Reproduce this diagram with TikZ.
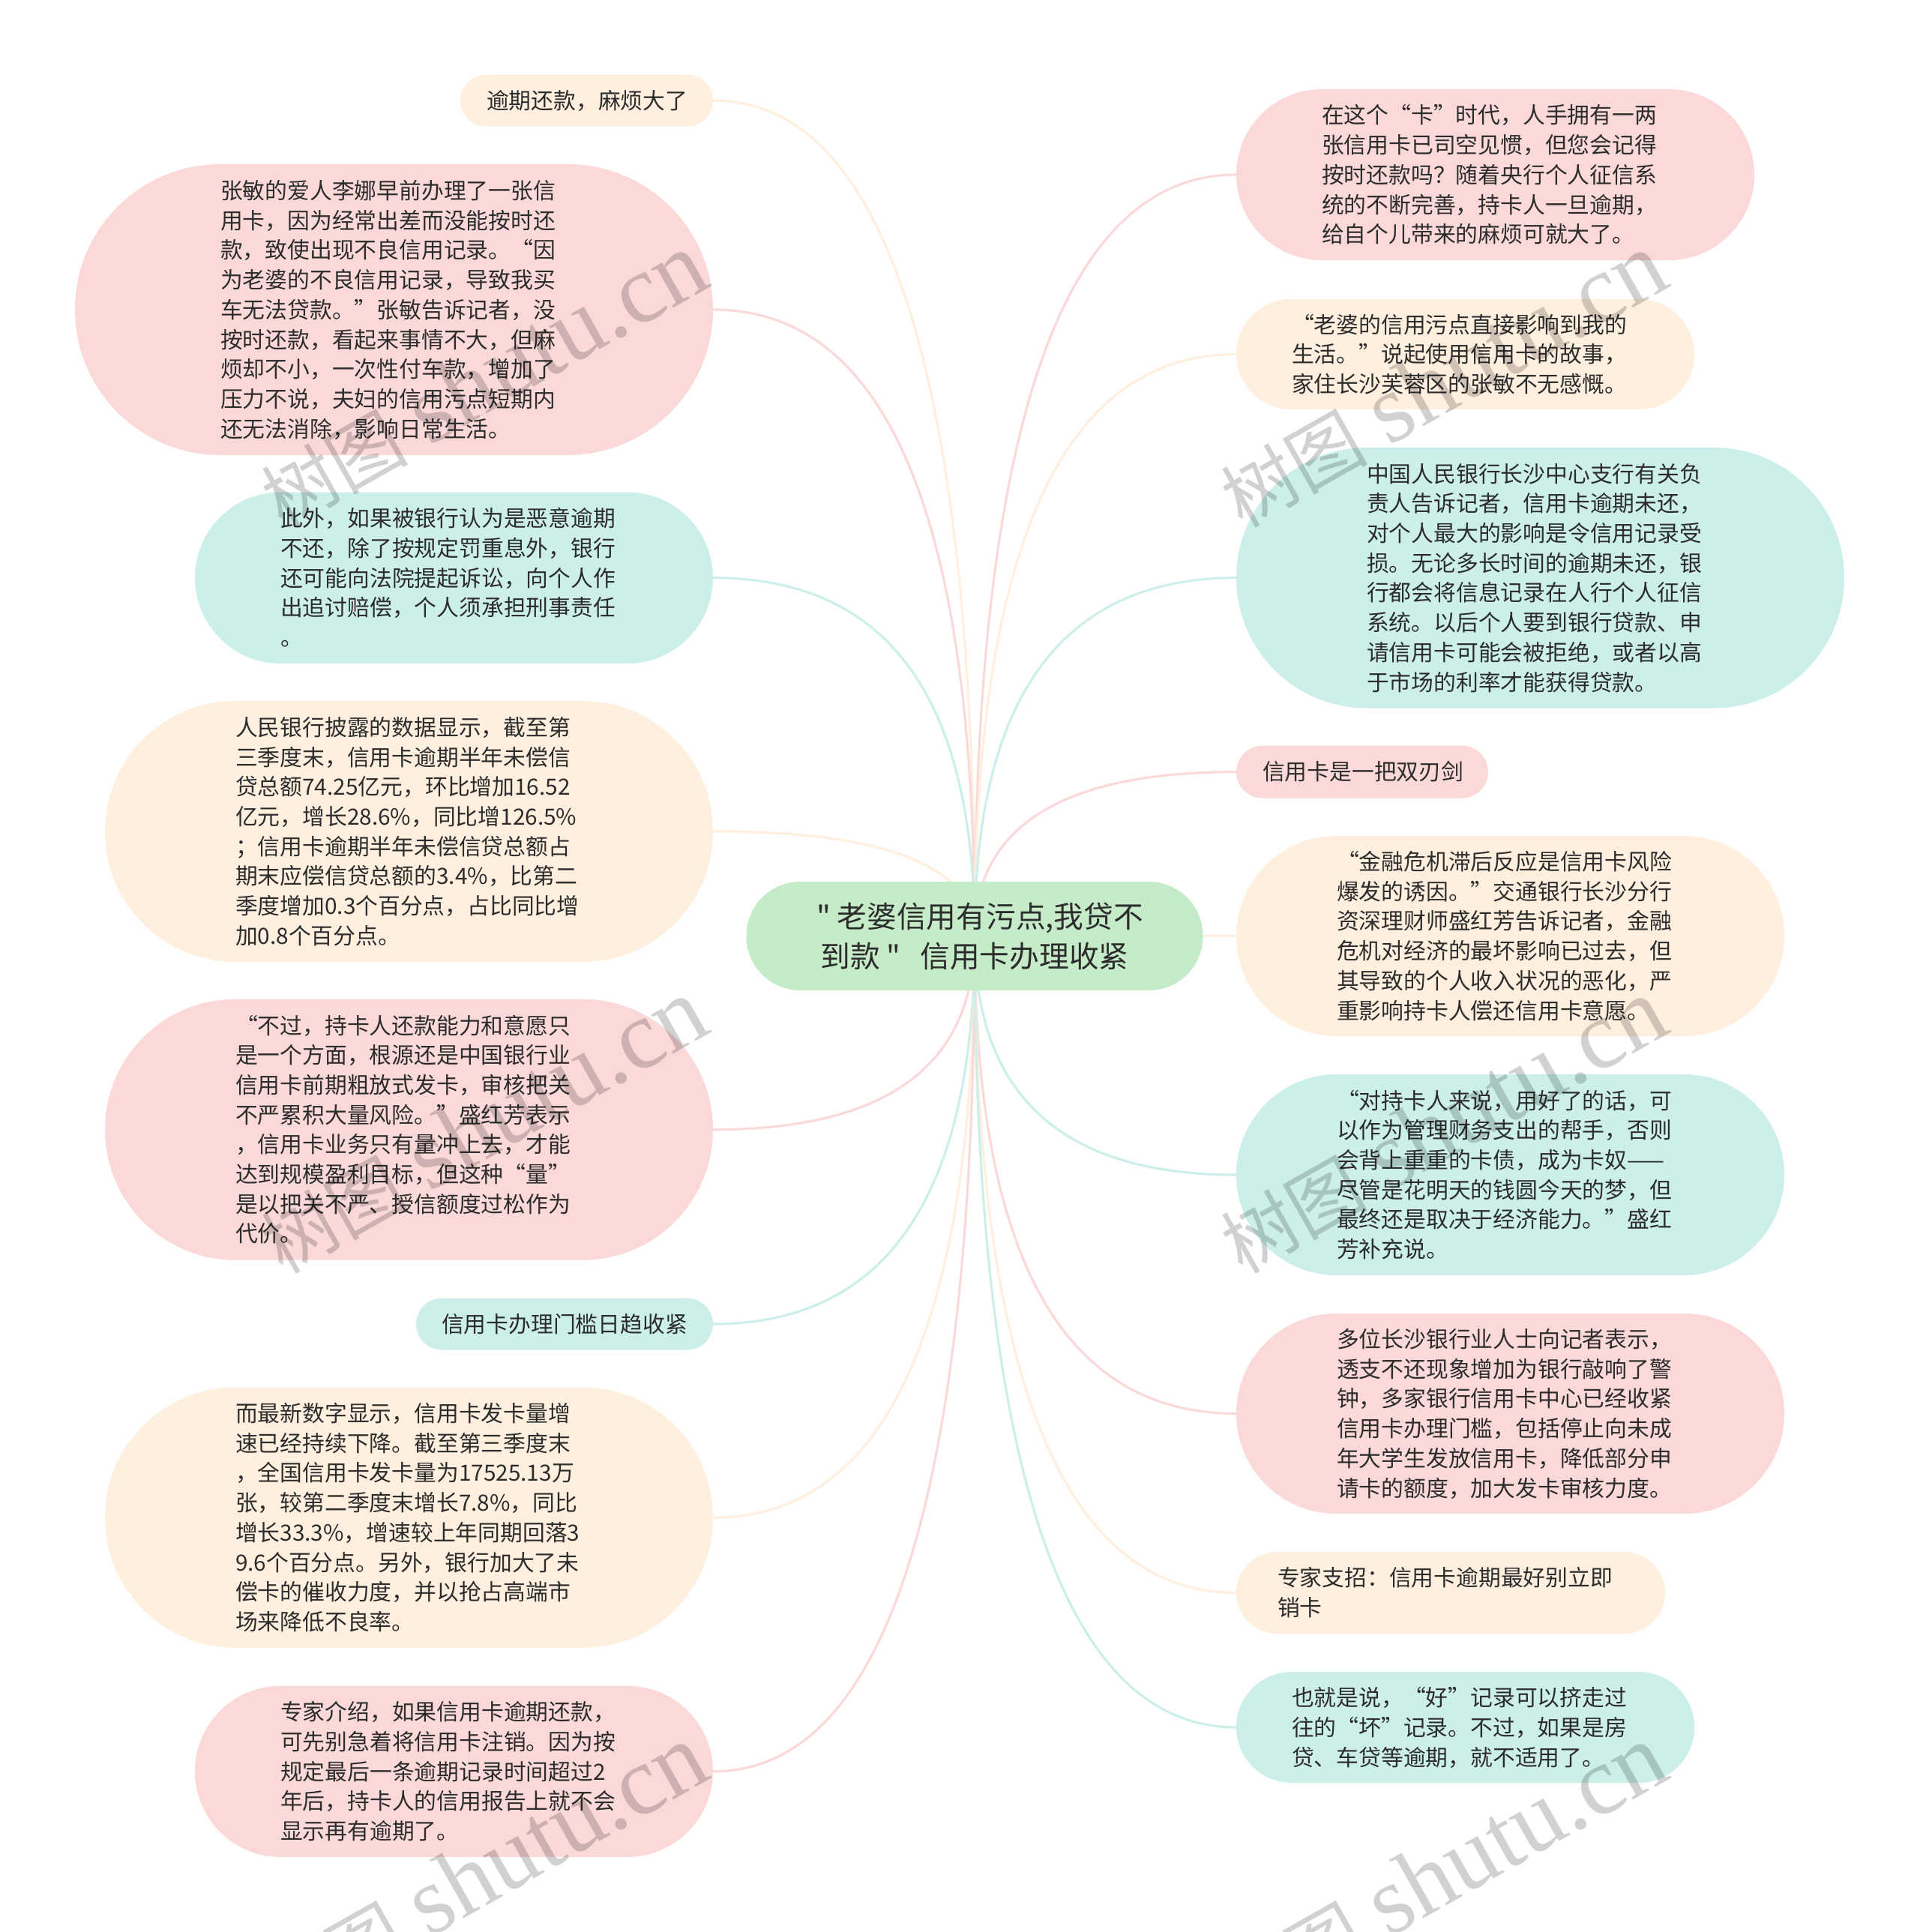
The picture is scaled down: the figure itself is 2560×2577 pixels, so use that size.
\documentclass[tikz,border=0pt]{standalone}
\usepackage{fontspec}
\setmainfont{Noto Sans CJK SC}
\newfontfamily\wmserif{Liberation Serif}
\newfontfamily\ctrfont{Noto Sans CJK SC}
\usetikzlibrary{calc,backgrounds}
\definecolor{pinkc}{HTML}{FBD9D9}
\definecolor{creamc}{HTML}{FEEFDF}
\definecolor{tealc}{HTML}{CCF0E9}
\definecolor{greenc}{HTML}{C5EBC8}
\definecolor{inkc}{HTML}{2C2C2C}
\tikzset{
  pillbox/.style={rectangle,inner sep=0pt,text=inkc,font=\fontsize{29.8}{39.7}\selectfont},
  linkline/.style={line width=3.2pt},
  markwater/.style={rotate=29.5,anchor=base west,inner sep=0pt,text=black,text opacity=0.18}
}
\newcommand\oq{\makebox[1em][r]{“}}
\newcommand\cq{\makebox[1em][l]{”}}
% name, left, top, right, bottom, colour, text left, lines
\newcommand\pill[8]{%
  \pgfmathsetmacro\pw{#4-#2}%
  \pgfmathsetmacro\ph{#5-#3}%
  \pgfmathsetmacro\pr{(#5-#3)/2}%
  \pgfmathsetmacro\pp{#7-#2}%
  \pgfmathsetmacro\pq{#4-#7}%
  \node[pillbox,fill=#6,minimum width=\pw pt,minimum height=\ph pt,rounded corners=\pr pt] (#1) at ({(#2+#4)/2},{(#3+#5)/2})
    {\makebox[\pw pt][l]{\hspace*{\pp pt}\raisebox{-9.6pt}[0pt][0pt]{\parbox[c]{\pq pt}{\raggedright\strut #8\strut}}}};%
}
\newcommand\lnk[2]{%
  \draw[linkline,#1] (#2) .. controls ($(#2)!0.6667!(#2 -| ctr.center)$) and ($(ctr.center)!0.6667!(#2 -| ctr.center)$) .. (ctr.center);%
}
\newcommand\wm[2]{%
  \node[markwater] (#1) at (#2) {\fontsize{98}{98}\selectfont 树图\hspace{28pt}{\wmserif\fontsize{130}{130}\selectfont shutu.cn}};%
}
\begin{document}
\begin{tikzpicture}[x=1pt,y=-1pt]
\useasboundingbox (0,0) rectangle (2560,2577);
% central topic
\node[pillbox,fill=greenc,minimum width=609pt,minimum height=145pt,rounded corners=72pt,font=\ctrfont\fontsize{39.7}{53}\selectfont,align=center] (ctr) at (1300,1248.5)
  {\hspace*{14pt}" 老婆信用有污点,我贷不\\到款 "\hspace{26pt}信用卡办理收紧};
% left side
\pill{La}{614}{99.5}{951}{168.7}{creamc}{649}{逾期还款，麻烦大了}
\pill{Lb}{100}{219}{951}{607}{pinkc}{294}{张敏的爱人李娜早前办理了一张信\\用卡，因为经常出差而没能按时还\\款，致使出现不良信用记录。\oq 因\\为老婆的不良信用记录，导致我买\\车无法贷款。\cq 张敏告诉记者，没\\按时还款，看起来事情不大，但麻\\烦却不小，一次性付车款，增加了\\压力不说，夫妇的信用污点短期内\\还无法消除，影响日常生活。}
\pill{Lc}{260}{656.5}{951}{885}{tealc}{374}{此外，如果被银行认为是恶意逾期\\不还，除了按规定罚重息外，银行\\还可能向法院提起诉讼，向个人作\\出追讨赔偿，个人须承担刑事责任\\。}
\pill{Ld}{140}{935}{951}{1283}{creamc}{314}{人民银行披露的数据显示，截至第\\三季度末，信用卡逾期半年未偿信\\贷总额74.25亿元，环比增加16.52\\亿元，增长28.6\%，同比增126.5\%\\；信用卡逾期半年未偿信贷总额占\\期末应偿信贷总额的3.4\%，比第二\\季度增加0.3个百分点，占比同比增\\加0.8个百分点。}
\pill{Le}{140}{1332.7}{951}{1680.7}{pinkc}{314}{\oq 不过，持卡人还款能力和意愿只\\是一个方面，根源还是中国银行业\\信用卡前期粗放式发卡，审核把关\\不严累积大量风险。\cq 盛红芳表示\\，信用卡业务只有量冲上去，才能\\达到规模盈利目标，但这种\oq 量\cq\\是以把关不严、授信额度过松作为\\代价。}
\pill{Lf}{555}{1731.6}{951}{1800.5}{tealc}{589}{信用卡办理门槛日趋收紧}
\pill{Lg}{140}{1850.6}{951}{2197.8}{creamc}{314}{而最新数字显示，信用卡发卡量增\\速已经持续下降。截至第三季度末\\，全国信用卡发卡量为17525.13万\\张，较第二季度末增长7.8\%，同比\\增长33.3\%，增速较上年同期回落3\\9.6个百分点。另外，银行加大了未\\偿卡的催收力度，并以抢占高端市\\场来降低不良率。}
\pill{Lh}{260}{2248.7}{951}{2476.9}{pinkc}{374}{专家介绍，如果信用卡逾期还款，\\可先别急着将信用卡注销。因为按\\规定最后一条逾期记录时间超过2\\年后，持卡人的信用报告上就不会\\显示再有逾期了。}
% right side
\pill{Ra}{1649}{119}{2340}{347}{pinkc}{1763}{在这个\oq 卡\cq 时代，人手拥有一两\\张信用卡已司空见惯，但您会记得\\按时还款吗？随着央行个人征信系\\统的不断完善，持卡人一旦逾期，\\给自个儿带来的麻烦可就大了。}
\pill{Rb}{1649}{399}{2260}{546}{creamc}{1723}{\oq 老婆的信用污点直接影响到我的\\生活。\cq 说起使用信用卡的故事，\\家住长沙芙蓉区的张敏不无感慨。}
\pill{Rc}{1649}{597}{2460}{944.5}{tealc}{1823}{中国人民银行长沙中心支行有关负\\责人告诉记者，信用卡逾期未还，\\对个人最大的影响是令信用记录受\\损。无论多长时间的逾期未还，银\\行都会将信息记录在人行个人征信\\系统。以后个人要到银行贷款、申\\请信用卡可能会被拒绝，或者以高\\于市场的利率才能获得贷款。}
\pill{Rd}{1649}{994.6}{1985}{1064.6}{pinkc}{1684}{信用卡是一把双刃剑}
\pill{Re}{1649}{1115}{2380}{1382}{creamc}{1783}{\oq 金融危机滞后反应是信用卡风险\\爆发的诱因。\cq 交通银行长沙分行\\资深理财师盛红芳告诉记者，金融\\危机对经济的最坏影响已过去，但\\其导致的个人收入状况的恶化，严\\重影响持卡人偿还信用卡意愿。}
\pill{Rf}{1649}{1433}{2380}{1701}{tealc}{1783}{\oq 对持卡人来说，用好了的话，可\\以作为管理财务支出的帮手，否则\\会背上重重的卡债，成为卡奴——\\尽管是花明天的钱圆今天的梦，但\\最终还是取决于经济能力。\cq 盛红\\芳补充说。}
\pill{Rg}{1649}{1752}{2380}{2019}{pinkc}{1783}{多位长沙银行业人士向记者表示，\\透支不还现象增加为银行敲响了警\\钟，多家银行信用卡中心已经收紧\\信用卡办理门槛，包括停止向未成\\年大学生发放信用卡，降低部分申\\请卡的额度，加大发卡审核力度。}
\pill{Rh}{1649}{2070}{2221}{2179}{creamc}{1704}{专家支招：信用卡逾期最好别立即\\销卡}
\pill{Ri}{1649}{2230}{2260}{2378}{tealc}{1723}{也就是说，\oq 好\cq 记录可以挤走过\\往的\oq 坏\cq 记录。不过，如果是房\\贷、车贷等逾期，就不适用了。}
% connectors, behind the nodes
\begin{pgfonlayer}{background}
\fill[white] (0,0) rectangle (2560,2577);
\lnk{creamc}{La.east}
\lnk{pinkc}{Lb.east}
\lnk{tealc}{Lc.east}
\lnk{creamc}{Ld.east}
\lnk{pinkc}{Le.east}
\lnk{tealc}{Lf.east}
\lnk{creamc}{Lg.east}
\lnk{pinkc}{Lh.east}
\lnk{pinkc}{Ra.west}
\lnk{creamc}{Rb.west}
\lnk{tealc}{Rc.west}
\lnk{pinkc}{Rd.west}
\lnk{creamc}{Re.west}
\lnk{tealc}{Rf.west}
\lnk{pinkc}{Rg.west}
\lnk{creamc}{Rh.west}
\lnk{tealc}{Ri.west}
\end{pgfonlayer}
% watermarks
\wm{wa}{377,706}
\wm{wb}{1657,706}
\wm{wc}{377,1701}
\wm{wd}{1657,1701}
\wm{we}{377,2696}
\wm{wf}{1657,2696}
\end{tikzpicture}
\end{document}
